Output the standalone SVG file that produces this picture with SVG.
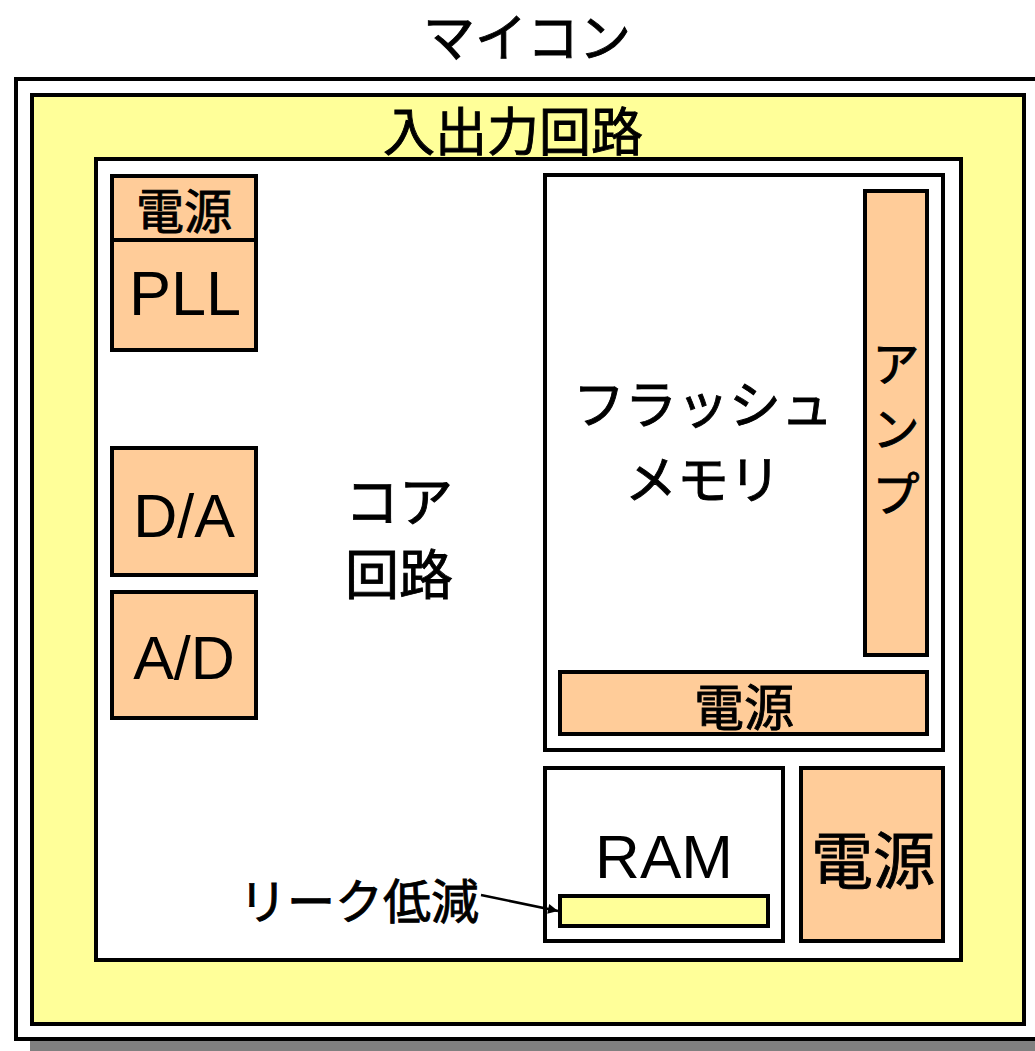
<svg xmlns="http://www.w3.org/2000/svg" width="1035" height="1051" viewBox="0 0 1035 1051">
<style>
.box{stroke:#000;stroke-width:4}
.w{fill:#fff}
.y{fill:#FFFF99}
.p{fill:#FFCC99}
.jp{font-family:"Noto Sans CJK JP","Liberation Sans",sans-serif;fill:#000;text-anchor:middle;stroke:#000;stroke-width:0.9}
.en{font-family:"Liberation Sans",Arial,sans-serif;fill:#000;text-anchor:middle}
</style>
<defs>
<marker id="ah" viewBox="0 0 10 10" refX="10" refY="5" markerWidth="12" markerHeight="10" markerUnits="userSpaceOnUse" orient="auto">
<path d="M0,0 L10,5 L0,10 z" fill="#000"/>
</marker>
</defs>
<rect x="30" y="95" width="1020" height="962" fill="#808080"/>
<g id="mcu">
<rect class="box w" x="16" y="79" width="1030" height="960"/>
<text class="jp" x="527" y="57" font-size="52">マイコン</text>
</g>
<g id="io">
<rect class="box y" x="32" y="95" width="992" height="929"/>
<text class="jp" x="513" y="151" font-size="52">入出力回路</text>
</g>
<g id="core">
<rect class="box w" x="96" y="159" width="865" height="801"/>
<text class="jp" x="399" y="522" font-size="54">コア</text>
<text class="jp" x="399" y="595" font-size="54">回路</text>
</g>
<g id="pll-power">
<rect class="box p" x="112" y="176" width="144" height="64"/>
<text class="jp" x="184" y="229" font-size="48">電源</text>
</g>
<g id="pll">
<rect class="box p" x="112" y="240" width="144" height="110"/>
<text class="en" x="185" y="315" font-size="63">PLL</text>
</g>
<g id="da">
<rect class="box p" x="112" y="448" width="144" height="127"/>
<text class="en" x="184" y="537" font-size="61">D/A</text>
</g>
<g id="ad">
<rect class="box p" x="112" y="592" width="144" height="126"/>
<text class="en" x="184" y="679" font-size="61">A/D</text>
</g>
<g id="flash">
<rect class="box w" x="545" y="175" width="398" height="575"/>
<text class="jp" x="703" y="424" font-size="52">フラッシュ</text>
<text class="jp" x="703" y="499" font-size="52">メモリ</text>
</g>
<g id="amp">
<rect class="box p" x="865" y="191" width="62" height="464"/>
<text class="jp" x="896" y="381" font-size="47">ア</text>
<text class="jp" x="896" y="446" font-size="47">ン</text>
<text class="jp" x="896" y="511" font-size="47">プ</text>
</g>
<g id="flash-power">
<rect class="box p" x="560" y="672" width="367" height="62"/>
<text class="jp" x="744" y="726" font-size="50">電源</text>
</g>
<g id="ram">
<rect class="box w" x="545" y="768" width="238" height="173"/>
<text class="en" x="664" y="878" font-size="62">RAM</text>
</g>
<g id="leak">
<rect class="box y" x="560" y="896" width="208" height="30"/>
</g>
<g id="power">
<rect class="box p" x="801" y="768" width="142" height="173"/>
<text class="jp" x="873" y="884" font-size="62">電源</text>
</g>
<g id="leak-label">
<text class="jp" x="359" y="919" font-size="48">リーク低減</text>
</g>
<g id="connectors">
<line x1="481" y1="895" x2="558" y2="911" stroke="#000" stroke-width="2.5" marker-end="url(#ah)"/>
</g>
</svg>
